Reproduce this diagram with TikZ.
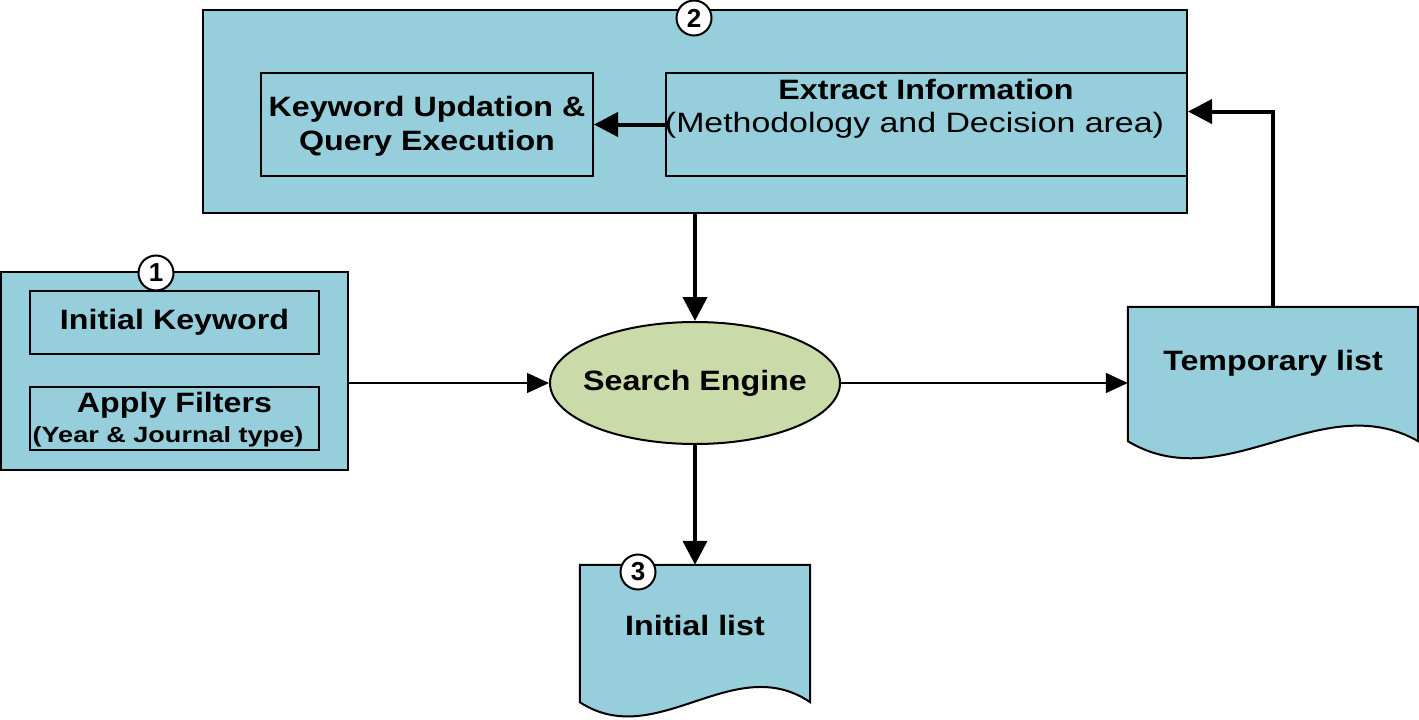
\documentclass[tikz,border=0pt]{standalone}
\usepackage{fontspec}
\setmainfont{Liberation Sans}
\usetikzlibrary{arrows.meta,shapes.geometric,calc}
\definecolor{boxblue}{HTML}{96CEDC}
\definecolor{enggreen}{HTML}{CBDAA9}
\newcommand{\hs}[1]{\scalebox{1.15}[1]{#1}}
\newcommand{\bigf}{\fontsize{28}{34}\selectfont\bfseries}
\newcommand{\regf}{\fontsize{28}{34}\selectfont}
\newcommand{\smallf}{\fontsize{22}{26}\selectfont\bfseries}
\tikzset{
  box/.style={draw=black, fill=boxblue, line width=2pt, inner sep=0pt, rectangle},
  geom/.style={inner sep=0pt, rectangle},
  docshape/.style={draw=black, fill=boxblue, line width=2pt},
  txt/.style={inner sep=0pt, align=center},
  num/.style={draw=black, fill=white, circle, line width=2pt, minimum size=35pt, inner sep=0pt, font=\fontsize{26}{26}\selectfont\bfseries},
  thick arrow/.style={line width=4pt, -{Triangle[length=24pt,width=24pt]}},
  thin arrow/.style={line width=1.5pt, -{Triangle[length=22pt,width=20pt]}}
}
\begin{document}
\begin{tikzpicture}[x=1pt,y=-1pt]
\useasboundingbox (0,0) rectangle (1419,720);
% box 2
\node[box, minimum width=984pt, minimum height=203pt] (b2) at (695,111.5) {};
\node[box, minimum width=332pt, minimum height=103pt] (kw) at (427,124.5) {};
\node[box, minimum width=521pt, minimum height=103pt] (ex) at (926.5,124.5) {};
\node[txt, font=\bigf] (kwt) at (427,126) {\hs{Keyword Updation \&}\\\hs{Query Execution}};
\node[txt] (ext1) at (926,89) {\bigf\hs{Extract Information}};
\node[txt] (ext2) at (914.5,125) {\regf\scalebox{1.21}[1]{(Methodology and Decision area)}};
\node[num] (n2) at (694,18) {2};
% box 1
\node[box, minimum width=347pt, minimum height=198pt] (b1) at (174.5,370.5) {};
\node[box, minimum width=289pt, minimum height=63pt] (ik) at (174.5,322.5) {\bigf\hs{Initial Keyword}};
\node[box, minimum width=289pt, minimum height=63pt] (af) at (174.5,418.5) {};
\node[txt] (aft1) at (174.5,405) {\bigf\hs{Apply Filters}};
\node[txt] (aft2) at (168,437) {\smallf\scalebox{1.23}[1]{(Year \& Journal type)}};
\node[num] (n1) at (156,273) {1};
% search engine
\node[draw=black, fill=enggreen, ellipse, line width=2pt, minimum width=290pt, minimum height=122pt, inner sep=0pt] (se) at (695,383) {};
\node[txt] (set) at (695,383) {\bigf\hs{Search Engine}};
% temporary list
\node[geom, minimum width=290pt, minimum height=134pt] (tmp) at (1273,374) {};
\draw[docshape] (tmp.north west) -- (tmp.north east) -- (tmp.south east)
  .. controls ($(tmp.south east)!1/3!(tmp.south west)+(0,-55)$) and ($(tmp.south east)!2/3!(tmp.south west)+(0,58)$) .. (tmp.south west) -- cycle;
\node[txt] (tmpt) at (1273,363) {\bigf\hs{Temporary list}};
% initial list
\node[geom, minimum width=230pt, minimum height=137pt] (il) at (695,633.5) {};
\draw[docshape] (il.north west) -- (il.north east) -- (il.south east)
  .. controls ($(il.south east)!1/3!(il.south west)+(0,-52)$) and ($(il.south east)!2/3!(il.south west)+(0,50)$) .. (il.south west) -- cycle;
\node[txt] (ilt) at (695,625) {\bigf\hs{Initial list}};
\node[num] (n3) at (638,572) {3};
% connectors
\draw[thick arrow] (ex.west) -- (kw.east);
\draw[thick arrow] (b2.south) -- (se.north);
\draw[thick arrow] (se.south) -- (il.north);
\draw[thick arrow] (tmp.north) |- (b2.east);
\draw[thin arrow] (b1.east |- se.west) -- (se.west);
\draw[thin arrow] (se.east) -- (tmp.west |- se.east);
\end{tikzpicture}
\end{document}
